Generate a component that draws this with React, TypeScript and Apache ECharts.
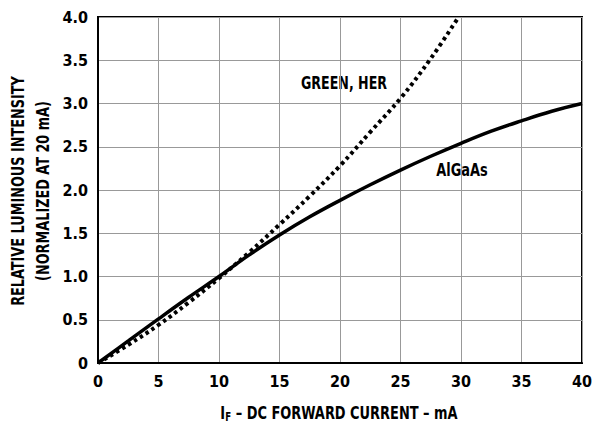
import React, { useEffect, useRef } from "react";
import * as echarts from "echarts";

const xTicks = [0, 5, 10, 15, 20, 25, 30, 35, 40];
const yTicks = [0, 0.5, 1.0, 1.5, 2.0, 2.5, 3.0, 3.5, 4.0];

const greenHerX = [0, 2.5, 5, 7.5, 10, 12.5, 15, 17.5, 20, 22.5, 25, 27.5, 29.8];
const greenHerY = [0, 0.21, 0.44, 0.7, 0.98, 1.28, 1.6, 1.93, 2.28, 2.67, 3.06, 3.52, 4.0];

const alGaAsX = [0, 2.5, 5, 7.5, 10, 12.5, 15, 17.5, 20, 22.5, 25, 27.5, 30, 32.5, 35, 37.5, 40];
const alGaAsY = [0, 0.255, 0.51, 0.76, 1.0, 1.25, 1.48, 1.69, 1.88, 2.06, 2.23, 2.39, 2.54, 2.68, 2.8, 2.91, 3.0];

const FONT = "'DejaVu Sans Condensed', 'Liberation Sans Narrow', sans-serif";

export default function App() {
  const ref = useRef<HTMLDivElement>(null);
  useEffect(() => {
    if (!ref.current) return;
    const chart = echarts.init(ref.current, undefined, { renderer: "svg" });
    const green = greenHerX.map((x, i) => [x, greenHerY[i]]);
    const alg = alGaAsX.map((x, i) => [x, alGaAsY[i]]);
    chart.setOption({
      animation: false,
      backgroundColor: "#ffffff",
      grid: {
        left: 98,
        right: 11,
        top: 17,
        bottom: 64,
        show: true,
        borderColor: "#000",
        borderWidth: 2,
        outerBoundsMode: "none",
        containLabel: false,
      },
      xAxis: {
        type: "value",
        min: xTicks[0],
        max: xTicks[xTicks.length - 1],
        interval: 5,
        axisLine: { show: true, lineStyle: { color: "#000", width: 2 } },
        axisTick: { show: false },
        splitLine: { show: true, lineStyle: { color: "#999", width: 1 } },
        axisLabel: {
          color: "#000",
          fontFamily: FONT,
          fontWeight: "bold",
          fontSize: 16,
          margin: 10,
        },
      },
      yAxis: {
        type: "value",
        min: yTicks[0],
        max: yTicks[yTicks.length - 1],
        interval: 0.5,
        axisLine: { show: true, lineStyle: { color: "#000", width: 2 } },
        axisTick: { show: false },
        splitLine: { show: true, lineStyle: { color: "#999", width: 1 } },
        axisLabel: {
          color: "#000",
          fontFamily: FONT,
          fontWeight: "bold",
          fontSize: 16,
          margin: 10,
          formatter: (v: number) => (v === 0 ? "0" : v.toFixed(1)),
        },
      },
      series: [
        {
          name: "GREEN, HER",
          type: "line",
          data: green,
          smooth: 0.4,
          showSymbol: false,
          lineStyle: { color: "#000", width: 4, type: [3.5, 3.5], cap: "butt" },
        },
        {
          name: "AlGaAs",
          type: "line",
          data: alg,
          smooth: 0.4,
          showSymbol: false,
          lineStyle: { color: "#000", width: 3.5 },
        },
      ],
      graphic: [
        {
          type: "text",
          x: 18,
          y: 191,
          rotation: Math.PI / 2,
          scaleX: 0.84,
          style: {
            text: "RELATIVE LUMINOUS INTENSITY",
            fill: "#000",
            font: `bold 17px ${FONT}`,
            textAlign: "center",
            textVerticalAlign: "middle",
          },
        },
        {
          type: "text",
          x: 43,
          y: 191,
          rotation: Math.PI / 2,
          scaleX: 0.84,
          style: {
            text: "(NORMALIZED AT 20 mA)",
            fill: "#000",
            font: `bold 17px ${FONT}`,
            textAlign: "center",
            textVerticalAlign: "middle",
          },
        },
        {
          type: "text",
          x: 339,
          y: 413,
          scaleX: 0.8,
          style: {
            text: "{a|I}{s|F}{a| – DC FORWARD CURRENT – mA}",
            textAlign: "center",
            textVerticalAlign: "middle",
            rich: {
              a: { fontFamily: FONT, fontWeight: "bold", fontSize: 18, fill: "#000", color: "#000" },
              s: { fontFamily: FONT, fontWeight: "bold", fontSize: 12, fill: "#000", color: "#000", padding: [8, 0, 0, 0] },
            },
          },
        },
        {
          type: "text",
          x: 344,
          y: 83,
          scaleX: 0.78,
          style: {
            text: "GREEN, HER",
            fill: "#000",
            font: `bold 18px ${FONT}`,
            textAlign: "center",
            textVerticalAlign: "middle",
          },
        },
        {
          type: "text",
          x: 462,
          y: 170,
          scaleX: 0.8,
          style: {
            text: "AlGaAs",
            fill: "#000",
            font: `bold 18px ${FONT}`,
            textAlign: "center",
            textVerticalAlign: "middle",
          },
        },
      ],
    });
    return () => chart.dispose();
  }, []);
  return (
    <div
      ref={ref}
      style={{ position: "absolute", left: 0, top: 0, width: 593, height: 427 }}
    />
  );
}
